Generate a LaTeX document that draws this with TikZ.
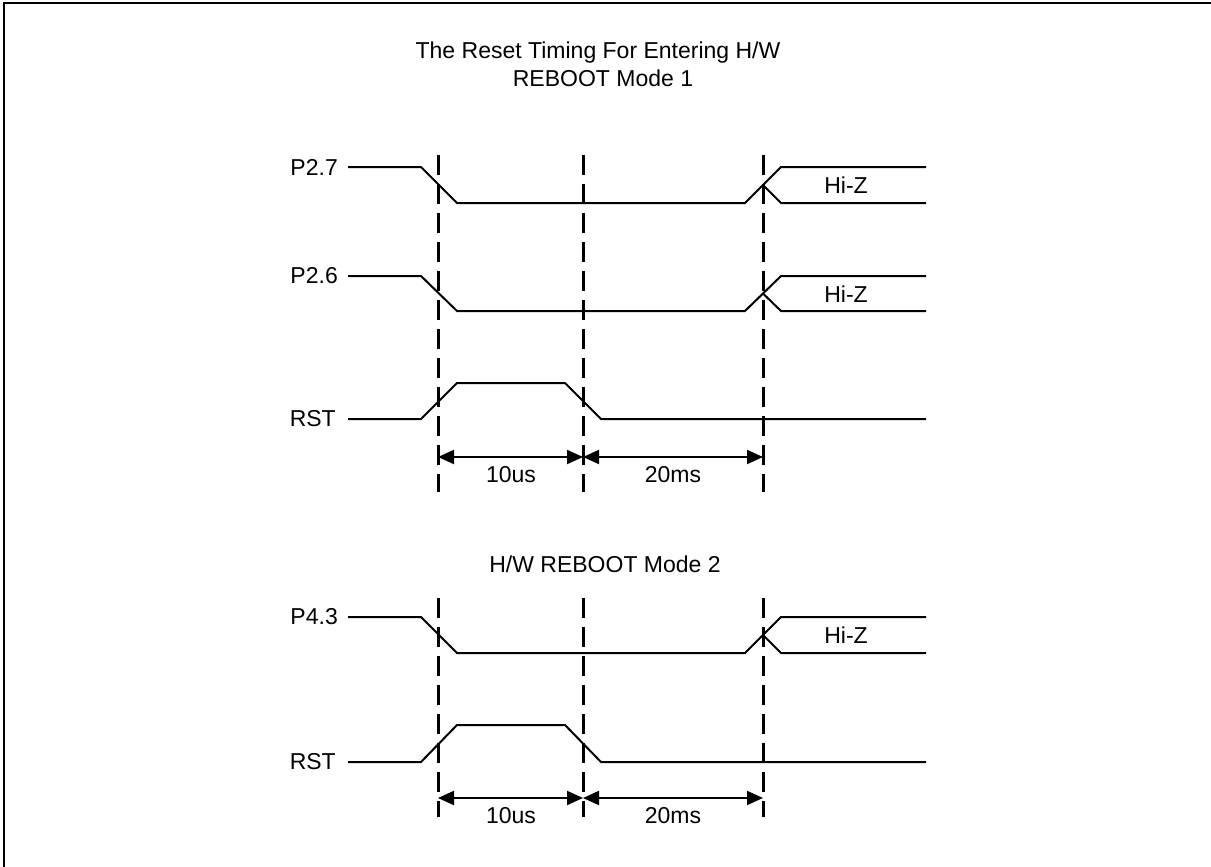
\documentclass[tikz,border=0pt]{standalone}
\usepackage{fontspec}
\setmainfont{Liberation Sans}
\usetikzlibrary{arrows.meta}
\begin{document}
\begin{tikzpicture}[x=1pt,y=-1pt,
  sig/.style={line width=2pt, line join=miter},
  guide/.style={line width=3pt, dash pattern=on 20pt off 9pt},
  spanarrow/.style={line width=2pt, {Triangle[length=16pt,width=14pt]}-{Triangle[length=16pt,width=14pt]}},
  lbl/.style={font=\fontsize{23}{27}\selectfont, inner sep=0pt},
  frameline/.style={line width=2.5pt}]
\useasboundingbox (0,0) rectangle (1211,867);
% frame (left and top edges)
\coordinate (fbl) at (4,867);
\coordinate (ftl) at (4,3);
\coordinate (ftr) at (1211,3);
\draw[frameline] (fbl) -- (ftl) -- (ftr);

% titles
\node[lbl, anchor=base] (t1) at (598,59) {The Reset Timing For Entering H/W};
\node[lbl, anchor=base] (t2) at (603,87) {REBOOT Mode 1};
\node[lbl, anchor=base] (t3) at (605,572) {H/W REBOOT Mode 2};

% signal labels
\node[lbl, anchor=east] (p27) at (338,167) {P2.7};
\node[lbl, anchor=east] (p26) at (338,276) {P2.6};
\node[lbl, anchor=east] (rst1) at (336,419) {RST};
\node[lbl, anchor=east] (p43) at (338,617) {P4.3};
\node[lbl, anchor=east] (rst2) at (336,762) {RST};

% guide coordinates
\coordinate (g1t) at (438,155); \coordinate (g1b) at (438,492);
\coordinate (g2t) at (583,155); \coordinate (g2b) at (583,492);
\coordinate (g3t) at (763,155); \coordinate (g3b) at (763,492);
\coordinate (h1t) at (438,598); \coordinate (h1b) at (438,817);
\coordinate (h2t) at (583,598); \coordinate (h2b) at (583,817);
\coordinate (h3t) at (763,598); \coordinate (h3b) at (763,817);
\draw[guide] (g1t) -- (g1b);
\draw[guide] (g2t) -- (g2b);
\draw[guide] (g3t) -- (g3b);
\draw[guide] (h1t) -- (h1b);
\draw[guide] (h2t) -- (h2b);
\draw[guide] (h3t) -- (h3b);

% P2.7
\draw[sig] (348,167) -- (421,167) -- (457,203) -- (745,203) -- (781,167) -- (926,167);
\draw[sig] (763,185) -- (781,203) -- (926,203);
\node[lbl] (hz1) at (846,185) {Hi-Z};
% P2.6
\draw[sig] (348,276) -- (421,276) -- (457,311) -- (745,311) -- (781,276) -- (926,276);
\draw[sig] (763,293.5) -- (781,311) -- (926,311);
\node[lbl] (hz2) at (846,294) {Hi-Z};
% RST 1
\draw[sig] (348,419) -- (421,419) -- (457,383) -- (565,383) -- (601,419) -- (926,419);
% P4.3
\draw[sig] (348,617) -- (421,617) -- (457,653) -- (745,653) -- (781,617) -- (926,617);
\draw[sig] (763,635) -- (781,653) -- (926,653);
\node[lbl] (hz3) at (846,635) {Hi-Z};
% RST 2
\draw[sig] (348,762) -- (421,762) -- (457,725) -- (565,725) -- (601,762) -- (926,762);

% timing arrows
\coordinate (a1) at (438,457); \coordinate (a2) at (583,457); \coordinate (a3) at (763,457);
\coordinate (b1) at (438,798); \coordinate (b2) at (583,798); \coordinate (b3) at (763,798);
\draw[spanarrow] (a1) -- (a2);
\draw[spanarrow] (a2) -- (a3);
\draw[spanarrow] (b1) -- (b2);
\draw[spanarrow] (b2) -- (b3);
\node[lbl] (d1) at (511,475) {10us};
\node[lbl] (d2) at (673,475) {20ms};
\node[lbl] (d3) at (511,816) {10us};
\node[lbl] (d4) at (673,816) {20ms};
\end{tikzpicture}
\end{document}
